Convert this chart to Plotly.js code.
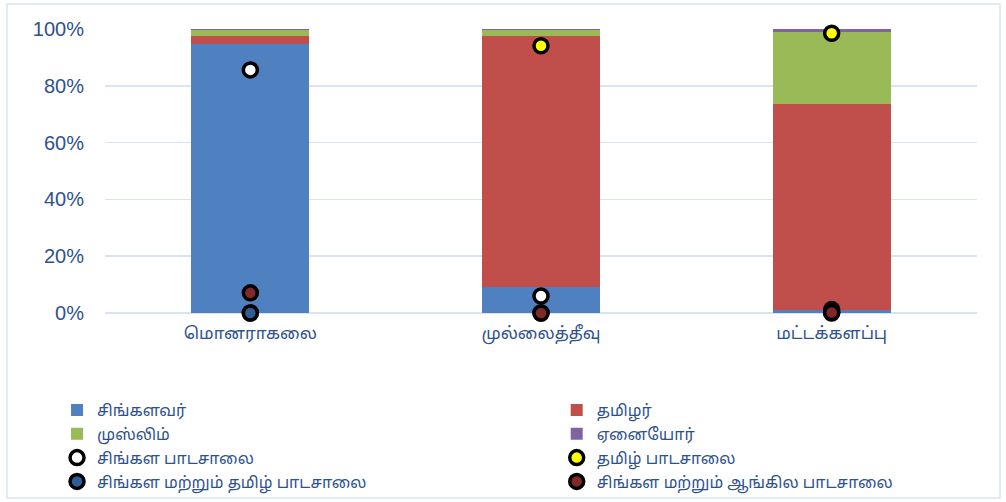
<!DOCTYPE html>
<html>
<head>
<meta charset="utf-8">
<script src="https://cdn.plot.ly/plotly-3.0.1.min.js"></script>
<style>
html,body{margin:0;padding:0;background:#fff;}
#chart{width:1006px;height:502px;}
</style>
</head>
<body>
<div id="chart"></div>
<script>
// Categories (districts)
const categories = ["மொனராகலை", "முல்லைத்தீவு", "மட்டக்களப்பு"];

// Population share by ethnicity (%)
const sinhala = [94.8, 9.2, 1.1];
const tamil   = [2.8, 88.4, 72.5];
const muslim  = [2.0, 2.0, 25.4];
const others  = [0.4, 0.4, 1.0];

// School share (%)
const sinhalaSchool        = [85.6, 6.0, 1.2];
const tamilSchool          = [0.0, 94.1, 98.5];
const sinhalaTamilSchool   = [0.0, 0.0, 0.0];
const sinhalaEnglishSchool = [7.1, 0.0, 0.2];

const seriesNames = ["சிங்களவர்", "தமிழர்", "முஸ்லிம்", "ஏனையோர்",
  "சிங்கள பாடசாலை", "தமிழ் பாடசாலை", "சிங்கள மற்றும் தமிழ் பாடசாலை", "சிங்கள மற்றும் ஆங்கில பாடசாலை"];

const tickVals = [0, 20, 40, 60, 80, 100];
const tickLabels = ["0%", "20%", "40%", "60%", "80%", "100%"];

const txtColor = "#2e528f";
const gridColor = "#d9e4f3";
const tamilFont = "'Noto Sans Tamil', 'Latha', 'Lohit Tamil', 'Noto Sans', sans-serif";

function barTrace(name, vals, color, lg) {
  return {type: "bar", name: name, x: categories, y: vals, legend: lg,
    marker: {color: color, line: {width: 0}}, hoverinfo: "y+name"};
}
function markerTrace(name, vals, fill, lg) {
  return {type: "scatter", mode: "markers", name: name, x: categories, y: vals, legend: lg,
    marker: {size: 14, color: fill, line: {color: "#000", width: 3.5}}, cliponaxis: false};
}

const data = [
  barTrace(seriesNames[0], sinhala, "#4f80c0", "legend"),
  barTrace(seriesNames[1], tamil, "#c04e4b", "legend2"),
  barTrace(seriesNames[2], muslim, "#9aba58", "legend"),
  barTrace(seriesNames[3], others, "#8064a2", "legend2"),
  markerTrace(seriesNames[4], sinhalaSchool, "#ffffff", "legend"),
  markerTrace(seriesNames[5], tamilSchool, "#ffff00", "legend2"),
  markerTrace(seriesNames[6], sinhalaTamilSchool, "#2f5d96", "legend"),
  markerTrace(seriesNames[7], sinhalaEnglishSchool, "#7f2a28", "legend2")
];

const legendCommon = {
  orientation: "v", xanchor: "left", y: -0.282, yanchor: "top",
  font: {size: 16, color: txtColor, family: tamilFont},
  traceorder: "normal", itemwidth: 30, tracegroupgap: 0,
  bgcolor: "rgba(0,0,0,0)", borderwidth: 0
};

const layout = {
  width: 1006, height: 502,
  margin: {l: 105, r: 29, t: 29, b: 189, autoexpand: false},
  paper_bgcolor: "#fff", plot_bgcolor: "#fff",
  barmode: "stack", bargap: 0.594,
  showlegend: true,
  font: {family: tamilFont, color: txtColor},
  xaxis: {
    type: "category", showgrid: false, zeroline: false,
    showline: false, ticks: "", ticklabelstandoff: 8,
    tickfont: {size: 17, color: txtColor, family: tamilFont},
    fixedrange: true
  },
  yaxis: {
    range: [0, 100], tickmode: "array", tickvals: tickVals, ticktext: tickLabels,
    showgrid: true, gridcolor: gridColor, gridwidth: 1.5,
    zeroline: true, zerolinecolor: gridColor, zerolinewidth: 1.5,
    showline: false, ticks: "", ticklen: 0, ticklabelstandoff: 20,
    tickfont: {size: 20, color: txtColor, family: "'Liberation Sans', Arial, sans-serif"},
    fixedrange: true
  },
  legend: Object.assign({}, legendCommon, {x: -0.055}),
  legend2: Object.assign({}, legendCommon, {x: 0.518}),
  shapes: [{
    type: "rect", xref: "paper", yref: "paper",
    x0: -0.1124, x1: 1.0264, y0: -0.651, y1: 1.088,
    line: {color: gridColor, width: 1.5}, fillcolor: "rgba(0,0,0,0)", layer: "below"
  }]
};

Plotly.newPlot("chart", data, layout, {displayModeBar: false, staticPlot: true});
</script>
</body>
</html>
